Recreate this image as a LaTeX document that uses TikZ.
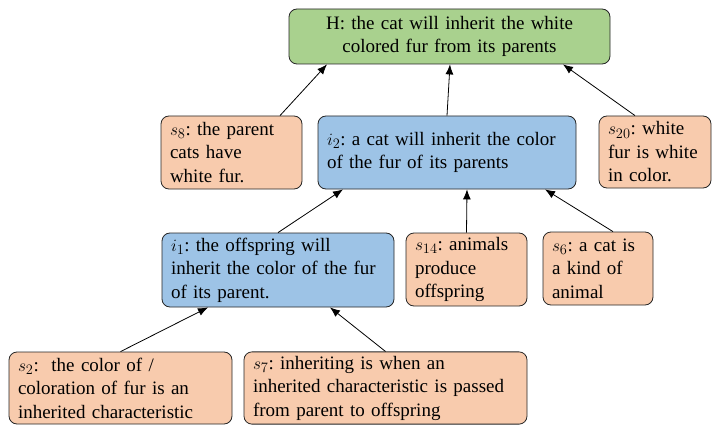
\documentclass[tikz,border=0pt]{standalone}
\usepackage{amsmath}
\usepackage{fontspec}
\setmainfont{Liberation Serif}
\usepackage{tikz}
\usetikzlibrary{arrows.meta}

\definecolor{hgreen}{HTML}{A9D18E}
\definecolor{iblue}{HTML}{9DC3E6}
\definecolor{sorange}{HTML}{F8CBAD}

\tikzset{
  box/.style = {draw=black!85,line width=0.8pt,rounded corners=8pt,
                inner xsep=9pt,inner ysep=4pt,align=left,
                font=\fontsize{19}{23.5}\selectfont\frenchspacing},
  hypo/.style = {box,fill=hgreen,align=center},
  inter/.style = {box,fill=iblue},
  sent/.style = {box,fill=sorange},
  link/.style = {line width=0.8pt,-{Latex[length=10pt,width=8pt]}}
}

\begin{document}
\begin{tikzpicture}[x=1pt,y=-1pt]
		\useasboundingbox (0,0) rectangle (712,425);
		% top: hypothesis
		\node[hypo,text width=303pt,minimum height=55pt] (H) at (449.5,36.5)
			{H: the cat will inherit the white\\ colored fur from its parents};
		% second row
		\node[sent,text width=123pt,minimum height=73pt] (s8) at (231.5,152.5)
			{$s_8$: the parent\\ cats have\\ white fur.};
		\node[inter,text width=240pt,minimum height=73pt] (i2) at (447,152.5)
			{$i_2$: a cat will inherit the color\\ of the fur of its parents};
		\node[sent,text width=94pt,minimum height=72pt] (s20) at (655,152)
			{$s_{20}$: white\\ fur is white\\ in color.};
		% third row
		\node[inter,text width=214pt,minimum height=74pt] (i1) at (278,270)
			{$i_1$: the offspring will\\ inherit the color of the fur\\ of its parent.};
		\node[sent,text width=103pt,minimum height=73pt] (s14) at (466.5,269.5)
			{$s_{14}$: animals\\ produce\\ offspring};
		\node[sent,text width=92pt,minimum height=73pt] (s6) at (598,268.5)
			{$s_6$: a cat is\\ a kind of\\ animal};
		% bottom row
		\node[sent,text width=205pt,minimum height=72pt] (s2) at (120.5,388)
			{$s_2$:\ \ the color of /\\ coloration of fur is an\\ inherited characteristic};
		\node[sent,text width=265pt,minimum height=72pt] (s7) at (385.5,388)
			{$s_7$: inheriting is when an\\ inherited characteristic is passed\\ from parent to offspring};
		% links
		\draw[link] ([xshift=48.5pt]s8.north) -- ([xshift=-122.5pt]H.south);
		\draw[link] (i2.north) -- ([xshift=0.5pt]H.south);
		\draw[link] ([xshift=-20pt]s20.north) -- ([xshift=113.5pt]H.south);
		\draw[link] (i1.north) -- ([xshift=-104pt]i2.south);
		\draw[link] (s14.north) -- ([xshift=20pt]i2.south);
		\draw[link] ([xshift=15pt]s6.north) -- ([xshift=98pt]i2.south);
		\draw[link] (s2.north) -- ([xshift=-70pt]i1.south);
		\draw[link] (s7.north) -- ([xshift=52pt]i1.south);
	\end{tikzpicture}
\end{document}
